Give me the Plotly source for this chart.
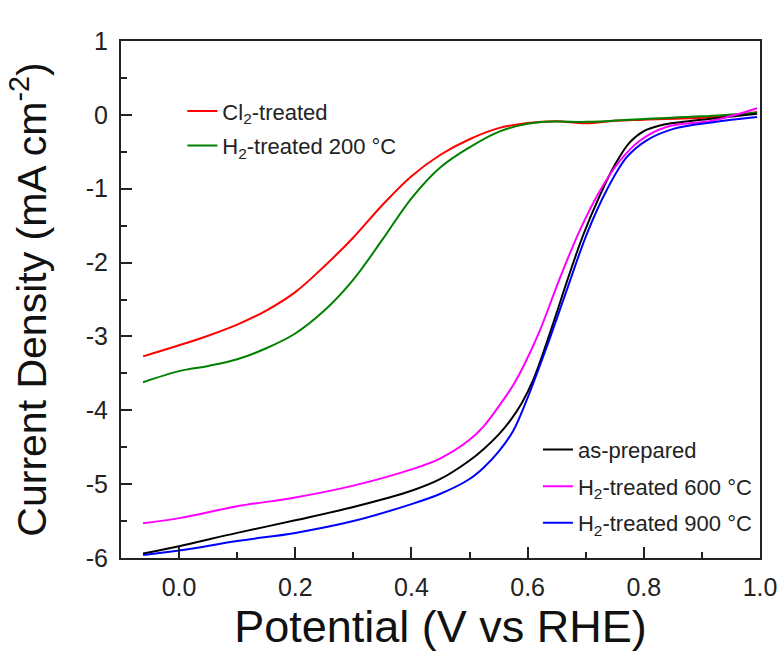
import plotly.graph_objects as go

# ---------------- data ----------------
v_cl2 = [-0.062, 0.0, 0.05, 0.10, 0.15, 0.20, 0.25, 0.30, 0.35, 0.40, 0.45, 0.50,
         0.55, 0.60, 0.65, 0.70, 0.75, 0.80, 0.90, 0.95, 0.995]
j_cl2 = [-3.27, -3.12, -2.99, -2.84, -2.65, -2.40, -2.05, -1.66, -1.22, -0.83, -0.54, -0.33,
         -0.18, -0.11, -0.085, -0.115, -0.08, -0.065, -0.04, -0.01, 0.04]

v_h200 = [-0.062, 0.0, 0.05, 0.10, 0.15, 0.20, 0.25, 0.30, 0.35, 0.40, 0.45, 0.50,
          0.55, 0.60, 0.65, 0.70, 0.80, 0.90, 0.995]
j_h200 = [-3.62, -3.47, -3.40, -3.31, -3.16, -2.96, -2.65, -2.23, -1.69, -1.13, -0.71, -0.44,
          -0.23, -0.12, -0.09, -0.095, -0.055, -0.02, 0.03]

v_asprep = [-0.062, 0.0, 0.10, 0.20, 0.30, 0.40, 0.45, 0.50, 0.525, 0.55, 0.57, 0.59, 0.61,
            0.633, 0.65, 0.667, 0.696, 0.725, 0.75, 0.775, 0.80, 0.83, 0.862, 0.92, 0.995]
j_asprep = [-5.94, -5.84, -5.66, -5.49, -5.31, -5.09, -4.93, -4.68, -4.52, -4.33, -4.14, -3.90, -3.58,
            -3.08, -2.68, -2.27, -1.62, -1.08, -0.68, -0.38, -0.22, -0.14, -0.10, -0.05, 0.015]

v_h600 = [-0.062, 0.0, 0.10, 0.20, 0.30, 0.40, 0.45, 0.50, 0.525, 0.55, 0.575, 0.593,
          0.621, 0.656, 0.69, 0.725, 0.759, 0.793, 0.839, 0.92, 0.995]
j_h600 = [-5.53, -5.46, -5.30, -5.18, -5.02, -4.80, -4.65, -4.40, -4.21, -3.95, -3.66, -3.40,
          -2.92, -2.20, -1.56, -1.02, -0.62, -0.35, -0.165, -0.075, 0.09]

v_h900 = [-0.062, 0.0, 0.10, 0.20, 0.30, 0.40, 0.45, 0.50, 0.525, 0.55, 0.575, 0.598, 0.633,
          0.667, 0.702, 0.736, 0.771, 0.805, 0.851, 0.92, 0.995]
j_h900 = [-5.96, -5.90, -5.77, -5.66, -5.50, -5.27, -5.13, -4.93, -4.77, -4.56, -4.28, -3.87, -3.14,
          -2.38, -1.61, -1.02, -0.57, -0.345, -0.19, -0.10, -0.03]

y_tickvals = [-6, -5, -4, -3, -2, -1, 0, 1]
y_ticktext = ["-6", "-5", "-4", "-3", "-2", "-1", "0", "1"]
x_tickvals = [0.0, 0.2, 0.4, 0.6, 0.8, 1.0]
x_ticktext = ["0.0", "0.2", "0.4", "0.6", "0.8", "1.0"]

FONT = "Liberation Sans, Arial, sans-serif"

fig = go.Figure()

series = [
    (v_cl2, j_cl2, "Cl<sub>2</sub>-treated", "#FF0000", "legend", "g1"),
    (v_h200, j_h200, "H<sub>2</sub>-treated 200 °C", "#008000", "legend", "g2"),
    (v_asprep, j_asprep, "as-prepared", "#000000", "legend2", "g3"),
    (v_h600, j_h600, "H<sub>2</sub>-treated 600 °C", "#FF00FF", "legend2", "g4"),
    (v_h900, j_h900, "H<sub>2</sub>-treated 900 °C", "#0000FF", "legend2", "g5"),
]
for vx, jy, name, col, leg, grp in series:
    fig.add_trace(go.Scatter(
        x=vx, y=jy, mode="lines", name=name, legend=leg, legendgroup=grp,
        line=dict(color=col, width=2, shape="spline", smoothing=1.0),
    ))

axis_common = dict(
    showline=True, linecolor="#222", linewidth=2, mirror=True,
    ticks="inside", ticklen=11, tickwidth=2, tickcolor="#222",
    showgrid=False, zeroline=False,
    tickfont=dict(family=FONT, size=25, color="#222"),
)

fig.update_xaxes(
    range=[-0.1, 1.0], tickvals=x_tickvals, ticktext=x_ticktext,
    minor=dict(ticks="inside", ticklen=6, tickwidth=2, tickcolor="#222", dtick=0.1, tick0=0),
    ticklabelstandoff=6,
    title=dict(text="Potential (V vs RHE)", font=dict(family=FONT, size=45, color="#111"), standoff=3),
    **axis_common,
)
fig.update_yaxes(
    range=[-6, 1], tickvals=y_tickvals, ticktext=y_ticktext,
    minor=dict(ticks="inside", ticklen=6, tickwidth=2, tickcolor="#222", dtick=0.5, tick0=0),
    ticklabelstandoff=6,
    title=dict(text="Current Density (mA cm<sup>-2</sup>)", font=dict(family=FONT, size=41, color="#111"), standoff=26),
    **axis_common,
)

fig.update_layout(
    width=783, height=661,
    margin=dict(l=121, r=23, t=41, b=103, autoexpand=False),
    paper_bgcolor="white", plot_bgcolor="white",
    font=dict(family=FONT, color="#222"),
    legend=dict(
        x=0.096, y=0.905, xanchor="left", yanchor="top",
        bgcolor="rgba(0,0,0,0)", font=dict(family=FONT, size=22, color="#222"),
        tracegroupgap=3, traceorder="grouped",
    ),
    legend2=dict(
        x=0.6525, y=0.25, xanchor="left", yanchor="top",
        bgcolor="rgba(0,0,0,0)", font=dict(family=FONT, size=22, color="#222"),
        tracegroupgap=5, traceorder="grouped",
    ),
    showlegend=True,
)

fig.write_html("out.html")
